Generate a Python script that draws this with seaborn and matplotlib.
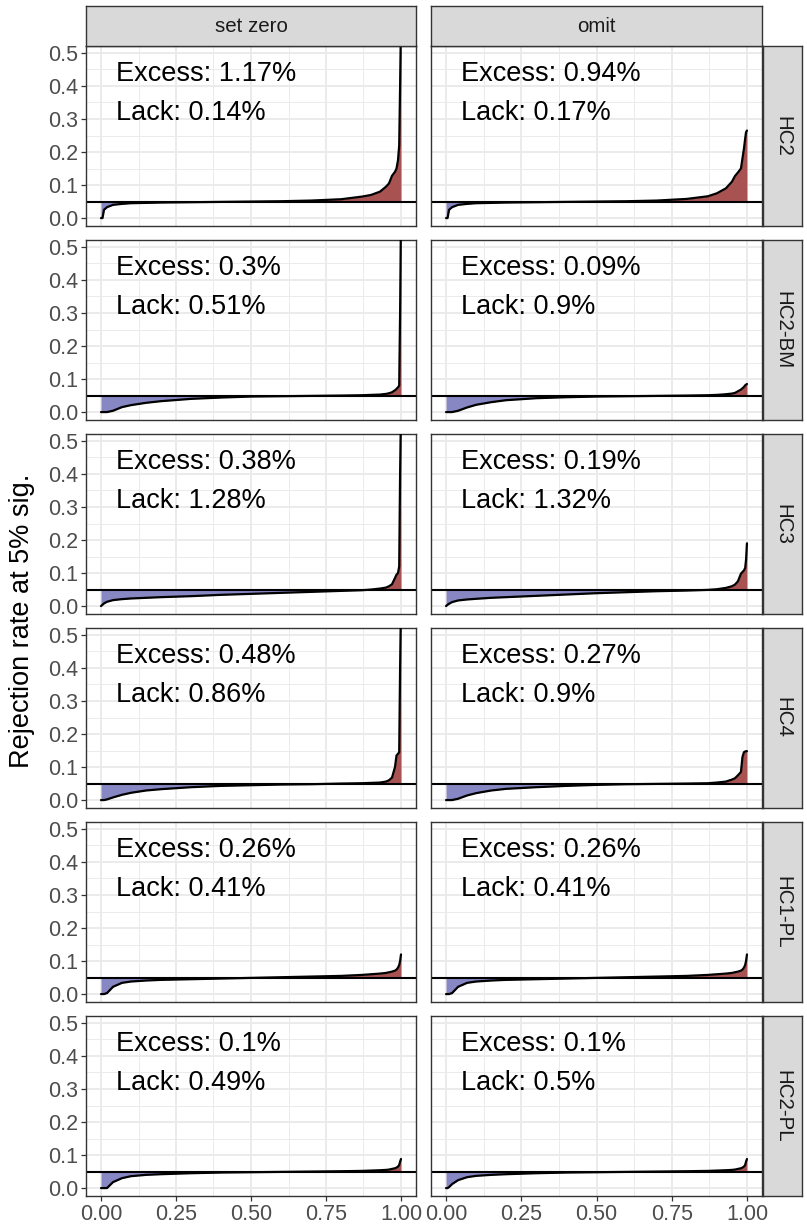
import numpy as np
import pandas as pd
import matplotlib
matplotlib.use("Agg")
import matplotlib.pyplot as plt
import seaborn as sns


# Kwantyle (oś x) wspólne dla wszystkich paneli
quantile = [0.0, 0.005, 0.01, 0.02, 0.04, 0.07, 0.1, 0.15, 0.2, 0.3, 0.4, 0.5,
            0.6, 0.7, 0.8, 0.87, 0.9, 0.93, 0.95, 0.96, 0.97, 0.98, 0.985,
            0.99, 0.994, 0.997, 1.0]

# Posortowane odsetki odrzuceń
hc2_set_zero = [0.0, 0.0, 0.025, 0.033, 0.040, 0.043, 0.045, 0.046, 0.047, 0.048, 0.049, 0.050,
                0.051, 0.053, 0.057, 0.065, 0.070, 0.080, 0.095, 0.105, 0.128, 0.140, 0.150,
                0.175, 0.22, 0.40, 0.60]
hc2_omit = [0.0, 0.0, 0.025, 0.033, 0.040, 0.043, 0.045, 0.046, 0.047, 0.048, 0.049, 0.050,
            0.051, 0.053, 0.058, 0.066, 0.075, 0.090, 0.110, 0.127, 0.138, 0.150, 0.180,
            0.210, 0.240, 0.260, 0.265]
hc2bm_set_zero = [0.0, 0.0, 0.0, 0.0, 0.004, 0.015, 0.021, 0.028, 0.033, 0.040, 0.044, 0.047,
                  0.048, 0.049, 0.050, 0.051, 0.052, 0.053, 0.055, 0.057, 0.060, 0.066, 0.070,
                  0.075, 0.080, 0.30, 0.60]
hc2bm_omit = [0.0, 0.0, 0.0, 0.0, 0.004, 0.014, 0.022, 0.030, 0.036, 0.042, 0.045, 0.047,
              0.048, 0.049, 0.050, 0.051, 0.052, 0.054, 0.056, 0.058, 0.063, 0.068, 0.072,
              0.076, 0.081, 0.083, 0.085]
hc3_set_zero = [0.0, 0.004, 0.008, 0.013, 0.018, 0.021, 0.023, 0.025, 0.027, 0.030, 0.034, 0.037,
                0.040, 0.043, 0.046, 0.048, 0.050, 0.053, 0.056, 0.060, 0.066, 0.085, 0.095,
                0.100, 0.12, 0.40, 0.60]
hc3_omit = [0.0, 0.004, 0.007, 0.012, 0.017, 0.020, 0.022, 0.025, 0.027, 0.031, 0.035, 0.039,
            0.042, 0.045, 0.047, 0.049, 0.051, 0.055, 0.060, 0.065, 0.075, 0.098, 0.103,
            0.108, 0.115, 0.140, 0.190]
hc4_set_zero = [0.0, 0.0, 0.0, 0.002, 0.008, 0.016, 0.022, 0.029, 0.033, 0.039, 0.043, 0.045,
                0.047, 0.048, 0.050, 0.051, 0.052, 0.053, 0.056, 0.060, 0.068, 0.100, 0.135,
                0.140, 0.145, 0.40, 0.60]
hc4_omit = [0.0, 0.0, 0.0, 0.0, 0.004, 0.014, 0.021, 0.029, 0.034, 0.039, 0.043, 0.046,
            0.048, 0.049, 0.050, 0.051, 0.053, 0.056, 0.062, 0.066, 0.075, 0.085, 0.130,
            0.145, 0.147, 0.148, 0.148]
hc1pl_set_zero = [0.0, 0.0, 0.0, 0.003, 0.022, 0.034, 0.038, 0.041, 0.043, 0.045, 0.047, 0.049,
                  0.051, 0.053, 0.055, 0.058, 0.060, 0.062, 0.064, 0.066, 0.068, 0.071, 0.074,
                  0.080, 0.088, 0.100, 0.120]
hc1pl_omit = [0.0, 0.0, 0.0, 0.003, 0.022, 0.034, 0.038, 0.041, 0.043, 0.045, 0.047, 0.049,
              0.051, 0.053, 0.055, 0.058, 0.060, 0.062, 0.064, 0.066, 0.068, 0.071, 0.074,
              0.080, 0.088, 0.100, 0.120]
hc2pl_set_zero = [0.0, 0.0, 0.0, 0.0, 0.018, 0.030, 0.036, 0.040, 0.042, 0.045, 0.047, 0.048,
                  0.049, 0.050, 0.051, 0.052, 0.053, 0.054, 0.055, 0.056, 0.058, 0.060, 0.062,
                  0.065, 0.070, 0.080, 0.088]
hc2pl_omit = [0.0, 0.0, 0.003, 0.012, 0.024, 0.033, 0.037, 0.040, 0.042, 0.045, 0.047, 0.048,
              0.049, 0.050, 0.051, 0.052, 0.053, 0.054, 0.055, 0.056, 0.058, 0.060, 0.062,
              0.065, 0.070, 0.080, 0.088]

methods = ["set zero", "omit"]
tests = ["HC2", "HC2-BM", "HC3", "HC4", "HC1-PL", "HC2-PL"]
excess = [["1.17%", "0.94%"], ["0.3%", "0.09%"], ["0.38%", "0.19%"],
          ["0.48%", "0.27%"], ["0.26%", "0.26%"], ["0.1%", "0.1%"]]
lack = [["0.14%", "0.17%"], ["0.51%", "0.9%"], ["1.28%", "1.32%"],
        ["0.86%", "0.9%"], ["0.41%", "0.41%"], ["0.49%", "0.5%"]]
curves = [[hc2_set_zero, hc2_omit], [hc2bm_set_zero, hc2bm_omit],
          [hc3_set_zero, hc3_omit], [hc4_set_zero, hc4_omit],
          [hc1pl_set_zero, hc1pl_omit], [hc2pl_set_zero, hc2pl_omit]]

nominal = 0.05

sns.set_theme(style="white")
plt.rcParams["font.family"] = ["Liberation Sans", "DejaVu Sans"]

W, H = 807, 1230
fig = plt.figure(figsize=(W / 100, H / 100), dpi=100)


def box(x0, y0, w, h):
    # piksele -> ułamki figury
    return [x0 / W, 1 - (y0 + h) / H, w / W, h / H]


col_x = [86, 431]
col_w = [330, 331]
row_top = 46
row_h = 180
row_step = 194
border = "#333333"

for i, test in enumerate(tests):
    top = row_top + i * row_step
    for j, method in enumerate(methods):
        ax = fig.add_axes(box(col_x[j], top, col_w[j], row_h))
        df = pd.DataFrame({"q": quantile, "rate": curves[i][j]})
        y = np.array(df["rate"])
        x = np.array(df["q"])

        # siatka w stylu theme_bw
        for g in [0, 0.25, 0.5, 0.75, 1.0]:
            ax.axvline(g, color="#EBEBEB", lw=1.4, zorder=0)
        for g in [0.125, 0.375, 0.625, 0.875]:
            ax.axvline(g, color="#EBEBEB", lw=0.7, zorder=0)
        for g in [0, 0.1, 0.2, 0.3, 0.4, 0.5]:
            ax.axhline(g, color="#EBEBEB", lw=1.4, zorder=0)
        for g in [0.05, 0.15, 0.25, 0.35, 0.45]:
            ax.axhline(g, color="#EBEBEB", lw=0.7, zorder=0)

        ax.fill_between(x, y, nominal, where=y <= nominal, interpolate=True,
                        color="#8787C4", lw=0, zorder=1)
        ax.fill_between(x, y, nominal, where=y >= nominal, interpolate=True,
                        color="#A85252", lw=0, zorder=1)
        ax.axhline(nominal, color="black", lw=1.5, zorder=2)
        sns.lineplot(data=df, x="q", y="rate", ax=ax, color="black", lw=1.6,
                     sort=False, zorder=3)

        ax.text(0.05, 0.436, f"Excess: {excess[i][j]}", fontsize=19.5,
                ha="left", va="center", color="black")
        ax.text(0.05, 0.317, f"Lack: {lack[i][j]}", fontsize=19.5,
                ha="left", va="center", color="black")

        ax.set_xlim(-0.05, 1.05)
        ax.set_ylim(-0.024, 0.521)
        ax.set_xlabel("")
        ax.set_ylabel("")
        ax.grid(False)
        for s in ax.spines.values():
            s.set_color(border)
            s.set_linewidth(1.0)
        ax.set_xticks([0, 0.25, 0.5, 0.75, 1.0])
        ax.set_yticks([0, 0.1, 0.2, 0.3, 0.4, 0.5])
        ax.tick_params(colors=border, labelcolor="#4D4D4D", labelsize=15.5,
                       length=3.5, width=0.9, pad=2)
        if j == 0:
            ax.set_yticklabels(["0.0", "0.1", "0.2", "0.3", "0.4", "0.5"])
            ax.tick_params(axis="y", left=True)
        else:
            ax.tick_params(axis="y", left=False, labelleft=False)
        if i == len(tests) - 1:
            ax.set_xticklabels(["0.00", "0.25", "0.50", "0.75", "1.00"])
            ax.tick_params(axis="x", bottom=True)
        else:
            ax.tick_params(axis="x", bottom=False, labelbottom=False)

        # nagłówki kolumn
        if i == 0:
            sax = fig.add_axes(box(col_x[j], 6, col_w[j], 40))
            sax.set_facecolor("#D9D9D9")
            sax.set_xticks([])
            sax.set_yticks([])
            for s in sax.spines.values():
                s.set_color(border)
                s.set_linewidth(1.0)
            sax.text(0.5, 0.5, method, transform=sax.transAxes, ha="center",
                     va="center", fontsize=14.8, color="#1A1A1A")

    # etykiety wierszy
    rax = fig.add_axes(box(763, top, 39, row_h))
    rax.set_facecolor("#D9D9D9")
    rax.set_xticks([])
    rax.set_yticks([])
    for s in rax.spines.values():
        s.set_color(border)
        s.set_linewidth(1.0)
    rax.text(0.5, 0.5, test, transform=rax.transAxes, ha="center", va="center",
             rotation=-90, fontsize=14.8, color="#1A1A1A")

fig.text(22 / W, 1 - 621 / H, "Rejection rate at 5% sig.", rotation=90,
         ha="center", va="center", fontsize=19.5, color="black")

fig.savefig("out.png", dpi=100)
